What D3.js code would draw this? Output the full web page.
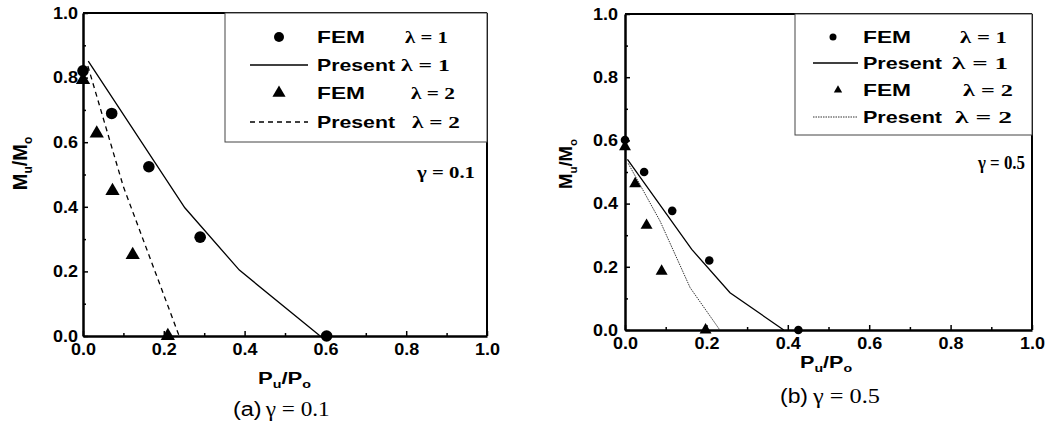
<!DOCTYPE html>
<html><head><meta charset="utf-8">
<script src="https://cdn.jsdelivr.net/npm/d3@7"></script>
<style>body{margin:0;background:#fff}svg{display:block}</style>
</head><body>
<svg id="c" width="1051" height="434"></svg>
<script>
// ---------- data ----------
const xTicks = [0, 0.2, 0.4, 0.6, 0.8, 1.0];
const yTicks = [0, 0.2, 0.4, 0.6, 0.8, 1.0];
const minorTicks = [0.1, 0.3, 0.5, 0.7, 0.9];
const legendNames = ["FEM", "Present", "FEM", "Present"];
const legendLambdas = ["λ = 1", "λ = 1", "λ = 2", "λ = 2"];
const gammaLabels = ["γ = 0.1", "γ = 0.5"];
const captionTags = ["(a)", "(b)"];
const captionGammas = ["γ = 0.1", "γ = 0.5"];

// panel (a) gamma = 0.1
const femA1X = [0.0, 0.071, 0.163, 0.290, 0.603];
const femA1Y = [0.821, 0.689, 0.524, 0.306, 0.0];
const femA2X = [0.0, 0.034, 0.073, 0.123, 0.210];
const femA2Y = [0.793, 0.627, 0.449, 0.251, 0.0];
const presA1X = [0.013, 0.252, 0.387, 0.587];
const presA1Y = [0.851, 0.397, 0.204, 0.0];
const presA2X = [0.012, 0.100, 0.238];
const presA2Y = [0.836, 0.462, 0.0];

// panel (b) gamma = 0.5
const femB1X = [0.0, 0.047, 0.116, 0.207, 0.426];
const femB1Y = [0.601, 0.500, 0.377, 0.220, 0.0];
const femB2X = [0.0, 0.025, 0.053, 0.090, 0.198];
const femB2Y = [0.580, 0.463, 0.331, 0.186, 0.0];
const presB1X = [0.006, 0.164, 0.258, 0.390];
const presB1Y = [0.540, 0.255, 0.118, 0.0];
const presB2X = [0.008, 0.086, 0.160, 0.233];
const presB2Y = [0.527, 0.345, 0.134, 0.0];

// ---------- layout ----------
const SANS = "'Liberation Sans', Arial, sans-serif";
const SERIF = "'Liberation Serif', 'Times New Roman', serif";
const svg = d3.select("#c");

const layoutA = {
  x0: 83, x1: 487, y0: 336, y1: 13, yPad: 5, circleR: 5.8, triSize: 88,
  box: [225, 13, 262, 129], rows: [37, 65, 93, 122], markX: [279, 279], lineX: [250, 308],
  nameX: 317, nameW: [48, 78, 48, 78], lamX: [405, 401, 411, 412], lamW: [43, 49, 44, 48],
  legR: 5, legTri: 75, gammaX: 417, gammaW: 58, gammaY: 178, gammaFs: 17,
  dash: "5,4", dashColor: "#000", dashW: 1.3,
  yTitle: [27, 163.5, 20, 12], xTitle: [258, 384, 1.3, 17, 11],
  cap: [233, 28.7, 265.7, 64, 416]
};
const layoutB = {
  x0: 625, x1: 1032, y0: 330, y1: 14, yPad: 7, circleR: 4.3, triSize: 62,
  box: [795, 14, 237, 121], rows: [37, 63, 90, 117], markX: [833, 838], lineX: [813, 858],
  nameX: 863, nameW: [48, 79, 48, 79], lamX: [960, 952, 963, 955], lamW: [47, 56, 50, 57],
  legR: 3.5, legTri: 30, gammaX: 978, gammaW: 47, gammaY: 169, gammaFs: 18,
  dash: "1.5,1", dashColor: "#333", dashW: 1,
  yTitle: [571.5, 164, 18.5, 11.5], xTitle: [800, 368, 1.35, 16, 10.5],
  cap: [780, 28, 813, 67, 403]
};

function panel(L, D, idx) {
  const x = d3.scaleLinear().domain([0, 1]).range([L.x0, L.x1]);
  const y = d3.scaleLinear().domain([0, 1]).range([L.y0, L.y1]);
  const g = svg.append("g");

  // frame top & right
  g.append("line").attr("x1", L.x0).attr("x2", L.x1).attr("y1", L.y1).attr("y2", L.y1)
    .attr("stroke", "#000").attr("stroke-width", 2);
  g.append("line").attr("x1", L.x1).attr("x2", L.x1).attr("y1", L.y1).attr("y2", L.y0)
    .attr("stroke", "#000").attr("stroke-width", 2);

  // axes
  const fmt = d3.format(".1f");
  const xa = g.append("g").attr("transform", `translate(0,${L.y0})`)
    .call(d3.axisBottom(x).tickValues(xTicks).tickFormat(fmt).tickSizeInner(-5).tickSizeOuter(0).tickPadding(7));
  g.append("g").attr("transform", `translate(0,${L.y0})`)
    .call(d3.axisBottom(x).tickValues(minorTicks).tickFormat("").tickSizeInner(-3).tickSizeOuter(0))
    .call(s => s.select(".domain").remove());
  const ya = g.append("g").attr("transform", `translate(${L.x0},0)`)
    .call(d3.axisLeft(y).tickValues(yTicks).tickFormat(fmt).tickSizeInner(-5).tickSizeOuter(0).tickPadding(L.yPad));
  g.append("g").attr("transform", `translate(${L.x0},0)`)
    .call(d3.axisLeft(y).tickValues(minorTicks).tickFormat("").tickSizeInner(-3).tickSizeOuter(0))
    .call(s => s.select(".domain").remove());
  g.selectAll(".domain").attr("stroke-width", 2.5);
  g.selectAll(".tick line").attr("stroke-width", 1.5);
  [xa, ya].forEach(a => a.selectAll("text")
    .attr("font-family", SANS).attr("font-weight", "bold").attr("font-size", 16.5)
    .attr("fill", "#000").attr("textLength", 25).attr("lengthAdjust", "spacingAndGlyphs"));

  // legend box
  g.append("rect").attr("x", L.box[0]).attr("y", L.box[1]).attr("width", L.box[2]).attr("height", L.box[3])
    .attr("fill", "#fff").attr("stroke", "#444").attr("stroke-width", 1);
  const styles = [
    {type: "circle"}, {type: "line", dash: null, color: "#000", w: 1.3},
    {type: "tri"}, {type: "line", dash: L.dash, color: L.dashColor, w: L.dashW}
  ];
  legendNames.forEach((nm, i) => {
    const ry = L.rows[i];
    const st = styles[i];
    if (st.type === "circle") {
      g.append("circle").attr("cx", L.markX[0]).attr("cy", ry).attr("r", L.legR).attr("fill", "#000");
    } else if (st.type === "tri") {
      g.append("path").attr("d", d3.symbol(d3.symbolTriangle, L.legTri)())
        .attr("transform", `translate(${L.markX[1]},${ry})`).attr("fill", "#000");
    } else {
      g.append("line").attr("x1", L.lineX[0]).attr("x2", L.lineX[1]).attr("y1", ry).attr("y2", ry)
        .attr("stroke", st.color).attr("stroke-width", st.w).attr("stroke-dasharray", st.dash);
    }
    g.append("text").attr("x", L.nameX).attr("y", ry + 6).text(nm)
      .attr("font-family", SANS).attr("font-weight", "bold").attr("font-size", 17)
      .attr("textLength", L.nameW[i]).attr("lengthAdjust", "spacingAndGlyphs");
    g.append("text").attr("x", L.lamX[i]).attr("y", ry + 6).text(legendLambdas[i])
      .attr("font-family", SERIF).attr("font-weight", "bold").attr("font-size", 17.5)
      .attr("textLength", L.lamW[i]).attr("lengthAdjust", "spacingAndGlyphs");
  });
  g.append("text").attr("x", L.gammaX).attr("y", L.gammaY).text(gammaLabels[idx])
    .attr("font-family", SERIF).attr("font-weight", "bold").attr("font-size", L.gammaFs)
    .attr("textLength", L.gammaW).attr("lengthAdjust", "spacingAndGlyphs");

  // present lines
  const line = d3.line().x(d => x(d[0])).y(d => y(d[1]));
  g.append("path").datum(d3.zip(D.p1x, D.p1y)).attr("d", line)
    .attr("fill", "none").attr("stroke", "#000").attr("stroke-width", 1.3);
  g.append("path").datum(d3.zip(D.p2x, D.p2y)).attr("d", line)
    .attr("fill", "none").attr("stroke", L.dashColor).attr("stroke-width", L.dashW)
    .attr("stroke-dasharray", L.dash);

  // FEM markers
  g.selectAll(null).data(d3.zip(D.f1x, D.f1y)).join("circle")
    .attr("cx", d => x(d[0])).attr("cy", d => y(d[1])).attr("r", L.circleR).attr("fill", "#000");
  const tri = d3.symbol(d3.symbolTriangle, L.triSize);
  g.selectAll(null).data(d3.zip(D.f2x, D.f2y)).join("path")
    .attr("d", tri).attr("transform", d => `translate(${x(d[0])},${y(d[1])})`).attr("fill", "#000");

  // y title
  const yt = g.append("text").attr("transform", `translate(${L.yTitle[0]},${L.yTitle[1]}) rotate(-90)`)
    .attr("text-anchor", "middle").attr("font-family", SANS).attr("font-weight", "bold")
    .attr("font-size", L.yTitle[2]);
  yt.append("tspan").text("M");
  yt.append("tspan").text("u").attr("font-size", L.yTitle[3]).attr("dy", 5);
  yt.append("tspan").text("/M").attr("dy", -5);
  yt.append("tspan").text("o").attr("font-size", L.yTitle[3]).attr("dy", 5);

  // x title
  const xt = g.append("g").attr("transform", `translate(${L.xTitle[0]},${L.xTitle[1]}) scale(${L.xTitle[2]},1)`)
    .append("text").attr("font-family", SANS).attr("font-weight", "bold").attr("font-size", L.xTitle[3]);
  xt.append("tspan").text("P");
  xt.append("tspan").text("u").attr("font-size", L.xTitle[4]).attr("dy", 4);
  xt.append("tspan").text("/P").attr("dy", -4);
  xt.append("tspan").text("o").attr("font-size", L.xTitle[4]).attr("dy", 4);

  // caption
  svg.append("text").attr("x", L.cap[0]).attr("y", L.cap[4]).text(captionTags[idx])
    .attr("font-family", SANS).attr("font-size", 20)
    .attr("textLength", L.cap[1]).attr("lengthAdjust", "spacingAndGlyphs");
  svg.append("text").attr("x", L.cap[2]).attr("y", L.cap[4]).text(captionGammas[idx])
    .attr("font-family", SERIF).attr("font-size", 20)
    .attr("textLength", L.cap[3]).attr("lengthAdjust", "spacingAndGlyphs");
}

panel(layoutA, {f1x: femA1X, f1y: femA1Y, f2x: femA2X, f2y: femA2Y,
  p1x: presA1X, p1y: presA1Y, p2x: presA2X, p2y: presA2Y}, 0);
panel(layoutB, {f1x: femB1X, f1y: femB1Y, f2x: femB2X, f2y: femB2Y,
  p1x: presB1X, p1y: presB1Y, p2x: presB2X, p2y: presB2Y}, 1);
</script>
</body></html>
